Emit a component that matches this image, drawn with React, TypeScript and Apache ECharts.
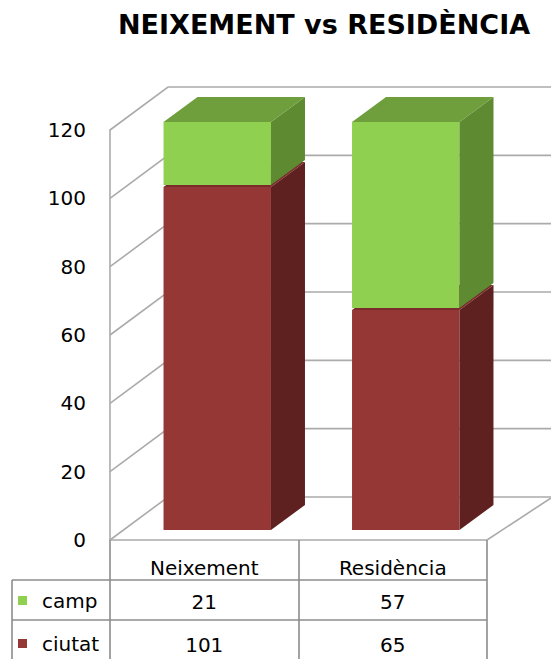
import React, { useEffect, useRef } from "react";
import * as echarts from "echarts";

// ---- data ----
const titleText = "NEIXEMENT vs RESIDÈNCIA";
const categories = ["Neixement", "Residència"];
const seriesNames = ["camp", "ciutat"];
const campValues = [21, 57];
const ciutatValues = [101, 65];
const yTicks = [0, 20, 40, 60, 80, 100, 120];

// ---- styling / layout ----
const Y_MAX = 120;
const FONT = "'DejaVu Sans', 'Open Sans', sans-serif";
const FS = 20;
const WALL_DX = 58;
const WALL_DY = 43;
const BAR_OFF_X = 13;
const BAR_OFF_Y = 10;
const BAR_DX = 34;
const BAR_DY = 25;
const BAR_W_RATIO = 0.57;
const GRID_COLOR = "#ababab";
const TABLE_COLOR = "#8c8c8c";
const ROW_Y = [602, 645];
const LEGEND_TOP = [590, 633];

const COLORS: Record<string, { front: string; side: string; top: string }> = {
  camp: { front: "#8fd050", side: "#5e8a32", top: "#6f9e3c" },
  ciutat: { front: "#953735", side: "#5f2120", top: "#7a2b2a" },
};

function barRender(name: string) {
  const c = COLORS[name];
  return (params: any, api: any) => {
    const cat = api.value(0);
    const base = api.value(1);
    const val = api.value(2);
    const lo = Math.min(base, Y_MAX);
    const hi = Math.min(base + val, Y_MAX);
    const pLo = api.coord([cat, lo]);
    const pHi = api.coord([cat, hi]);
    const band = api.size([1, 0])[0];
    const w = band * BAR_W_RATIO;
    const x0 = pLo[0] - w / 2 + BAR_OFF_X;
    const x1 = x0 + w;
    const yb = pLo[1] - BAR_OFF_Y;
    const yt = pHi[1] - BAR_OFF_Y + 2;
    return {
      type: "group",
      children: [
        { type: "rect", shape: { x: x0, y: yt, width: w, height: yb - yt }, style: { fill: c.front } },
        {
          type: "polygon",
          shape: { points: [[x1, yb], [x1, yt], [x1 + BAR_DX, yt - BAR_DY], [x1 + BAR_DX, yb - BAR_DY]] },
          style: { fill: c.side },
        },
        {
          type: "polygon",
          shape: { points: [[x0, yt], [x1, yt], [x1 + BAR_DX, yt - BAR_DY], [x0 + BAR_DX, yt - BAR_DY]] },
          style: { fill: c.top },
        },
      ],
    };
  };
}

export default function App() {
  const ref = useRef<HTMLDivElement>(null);
  useEffect(() => {
    if (!ref.current) return;
    const chart = echarts.init(ref.current, undefined, { renderer: "svg" });

    const ciutatData = ciutatValues.map((v, i) => [i, 0, v]);
    const campData = campValues.map((v, i) => [i, ciutatValues[i], v]);
    const gridData = yTicks.map((v) => [0, v]);
    const tableData: any[] = [];
    campValues.forEach((v, i) => tableData.push([i, 0, v]));
    ciutatValues.forEach((v, i) => tableData.push([i, 1, v]));

    chart.setOption({
      animation: false,
      backgroundColor: "#ffffff",
      title: {
        text: titleText,
        left: 118,
        top: 11,
        padding: 0,
        textStyle: { fontFamily: FONT, fontWeight: "bold", fontSize: 27, color: "#000" },
      },
      legend: seriesNames.map((n, k) => ({
        data: [n],
        orient: "vertical",
        left: 18,
        top: LEGEND_TOP[k],
        padding: 0,
        itemWidth: 9,
        itemHeight: 9,
        icon: "rect",
        selectedMode: false,
        textStyle: { fontFamily: FONT, fontSize: FS, lineHeight: 21, color: "#000", padding: [0, 0, 0, 10] },
      })),
      grid: { left: 110, right: 64, top: 130, bottom: 119, containLabel: false },
      xAxis: {
        type: "category",
        data: categories,
        boundaryGap: true,
        axisLine: { show: true, lineStyle: { color: GRID_COLOR, width: 1.6 } },
        axisTick: { show: true, length: 120, interval: 0, lineStyle: { color: TABLE_COLOR, width: 1.6 } },
        axisLabel: { margin: 17, fontFamily: FONT, fontSize: FS, lineHeight: 21, color: "#000", interval: 0 },
        splitLine: { show: false },
      },
      yAxis: {
        type: "value",
        min: 0,
        max: Y_MAX,
        interval: 20,
        axisLine: { show: true, lineStyle: { color: GRID_COLOR, width: 1.6 } },
        axisTick: { show: false },
        axisLabel: { margin: 24, fontFamily: FONT, fontSize: FS, color: "#000" },
        splitLine: { show: false },
      },
      graphic: [
        { type: "line", shape: { x1: 12, y1: 580, x2: 487, y2: 580 }, style: { stroke: TABLE_COLOR, lineWidth: 1.6 } },
        { type: "line", shape: { x1: 12, y1: 620, x2: 487, y2: 620 }, style: { stroke: TABLE_COLOR, lineWidth: 1.6 } },
        { type: "line", shape: { x1: 12, y1: 580, x2: 12, y2: 660 }, style: { stroke: TABLE_COLOR, lineWidth: 1.6 } },
      ],
      series: [
        {
          type: "custom",
          name: "walls",
          z: 1,
          silent: true,
          data: gridData,
          encode: { x: 0, y: 1 },
          renderItem: (params: any, api: any) => {
            const v = api.value(1);
            const band = api.size([1, 0])[0];
            const p = api.coord([0, v]);
            const xl = p[0] - band / 2;
            const children: any[] = [
              {
                type: "polyline",
                shape: { points: [[xl, p[1]], [xl + WALL_DX, p[1] - WALL_DY], [xl + WALL_DX + 800, p[1] - WALL_DY]] },
                style: { stroke: GRID_COLOR, lineWidth: 1.6, fill: null },
              },
            ];
            if (v === 0) {
              const xr = api.coord([categories.length - 1, 0])[0] + band / 2;
              children.push({
                type: "line",
                shape: { x1: xr, y1: p[1], x2: xr + 64, y2: p[1] - 42 },
                style: { stroke: GRID_COLOR, lineWidth: 1.6 },
              });
            }
            return { type: "group", children };
          },
        },
        {
          type: "custom",
          name: "ciutat",
          z: 2,
          itemStyle: { color: COLORS.ciutat.front },
          data: ciutatData,
          encode: { x: 0, y: 2 },
          renderItem: barRender("ciutat"),
        },
        {
          type: "custom",
          name: "camp",
          z: 3,
          itemStyle: { color: COLORS.camp.front },
          data: campData,
          encode: { x: 0, y: 2 },
          renderItem: barRender("camp"),
        },
        {
          type: "custom",
          name: "table",
          z: 4,
          silent: true,
          data: tableData,
          encode: { x: 0, y: 2 },
          clip: false,
          renderItem: (params: any, api: any) => {
            const cat = api.value(0);
            const row = api.value(1);
            const val = api.value(2);
            const p = api.coord([cat, 0]);
            return {
              type: "text",
              x: p[0],
              y: ROW_Y[row],
              style: {
                text: String(val),
                align: "center",
                verticalAlign: "middle",
                textAlign: "center",
                textVerticalAlign: "middle",
                fontFamily: FONT,
                fontSize: FS,
                fill: "#000",
              },
            };
          },
        },
      ],
    });
    return () => chart.dispose();
  }, []);
  return (
    <div
      ref={ref}
      style={{ position: "fixed", left: 0, top: 0, width: 551, height: 659, background: "#fff" }}
    />
  );
}
